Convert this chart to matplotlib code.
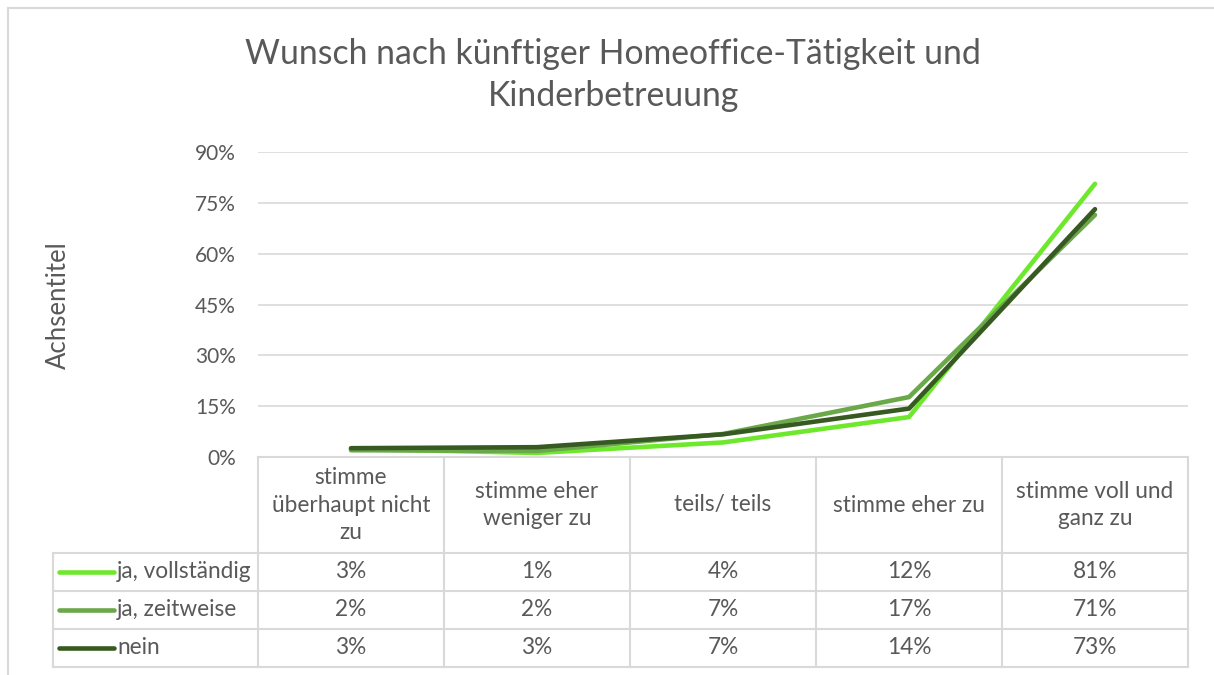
import matplotlib
matplotlib.use("Agg")
import matplotlib.pyplot as plt
from matplotlib.lines import Line2D

plt.rcParams['font.family'] = ['Lato', 'DejaVu Sans']

title = "Wunsch nach künftiger Homeoffice-Tätigkeit und\nKinderbetreuung"
categories = ["stimme\nüberhaupt nicht\nzu", "stimme eher\nweniger zu", "teils/ teils",
              "stimme eher zu", "stimme voll und\nganz zu"]
series_names = ["ja, vollständig", "ja, zeitweise", "nein"]
vals_vollstaendig = [2.4, 1.2, 4.3, 11.8, 80.7]
vals_zeitweise = [2.0, 1.8, 6.8, 17.7, 71.5]
vals_nein = [2.6, 2.9, 6.7, 14.3, 73.2]
labels_vollstaendig = ["3%", "1%", "4%", "12%", "81%"]
labels_zeitweise = ["2%", "2%", "7%", "17%", "71%"]
labels_nein = ["3%", "3%", "7%", "14%", "73%"]
yticks = [0, 15, 30, 45, 60, 75, 90]
ylabel = "Achsentitel"

colors = ["#6EE82C", "#6AA84A", "#375A22"]
txt = "#595959"
grid = "#D9D9D9"

W, H = 1214, 675
fig = plt.figure(figsize=(W / 100, H / 100), dpi=100)

def fx(px):
    return px / W

def fy(py):
    return 1 - py / H

# outer chart border (top and left visible)
fig.add_artist(Line2D([fx(8), fx(1214)], [fy(8), fy(8)], color=grid, lw=1.5))
fig.add_artist(Line2D([fx(8), fx(8)], [fy(8), fy(675)], color=grid, lw=1.5))

x0, x1 = 258, 1188
y_top, y_zero = 152.3, 457
ax = fig.add_axes([fx(x0), fy(y_zero), fx(x1) - fx(x0), fy(y_top) - fy(y_zero)])
ax.set_xlim(-0.5, 4.5)
ax.set_ylim(0, 90)
for s in ax.spines.values():
    s.set_visible(False)
ax.set_yticks(yticks)
ax.set_yticklabels([f"{t}%" for t in yticks], color=txt, fontsize=15)
ax.tick_params(axis='y', length=0, pad=16)
ax.set_xticks([])
ax.grid(axis='y', color=grid, lw=1.2)
ax.set_axisbelow(True)

fig.text(fx(58), fy(305), ylabel, rotation=90, ha='center', va='center',
         color=txt, fontsize=18.5)

series = [vals_vollstaendig, vals_zeitweise, vals_nein]
xs = list(range(len(categories)))
for i in [1, 0, 2]:
    ax.plot(xs, series[i], color=colors[i], lw=3.3, solid_capstyle='round',
            solid_joinstyle='round', zorder=3 + i, clip_on=False)

fig.text(0.505, fy(75), title, ha='center', va='center', fontsize=24.3, color=txt,
         linespacing=1.39)

# data table
tab = fig.add_axes([fx(x0), fy(668), fx(x1) - fx(x0), fy(457) - fy(668)])
tab.set_xlim(-0.5, 4.5)
tab.set_ylim(668, 457)
tab.axis('off')
cw = (x1 - x0) / 5.0
left_x = -0.5 - (x0 - 53) / cw
row_lines = [553, 591, 629, 667]
lc = grid
lw = 1.5
for k in range(6):
    xv = -0.5 + k
    tab.plot([xv, xv], [457, 667], color=lc, lw=lw, clip_on=False)
tab.plot([-0.5, 4.5], [457, 457], color=lc, lw=lw, clip_on=False)
for yl in row_lines:
    tab.plot([left_x, 4.5], [yl, yl], color=lc, lw=lw, clip_on=False)
tab.plot([left_x, left_x], [553, 667], color=lc, lw=lw, clip_on=False)

fs = 16.3
for i, c in enumerate(categories):
    tab.text(i, 505, c, ha='center', va='center', fontsize=fs, color=txt, linespacing=1.37)

row_labels = [labels_vollstaendig, labels_zeitweise, labels_nein]
key_x0 = left_x + (59 - 53) / cw
key_x1 = left_x + (114 - 53) / cw
for r in range(3):
    yc = (row_lines[r] + row_lines[r + 1]) / 2
    tab.plot([key_x0, key_x1], [yc, yc], color=colors[r], lw=3.3,
             solid_capstyle='round', clip_on=False)
    tab.text(key_x1 + 3 / cw, yc, series_names[r], ha='left', va='center',
             fontsize=fs, color=txt, clip_on=False)
    for i in range(5):
        tab.text(i, yc, row_labels[r][i], ha='center', va='center', fontsize=fs, color=txt)

fig.savefig("out.png", dpi=100, facecolor='white')
